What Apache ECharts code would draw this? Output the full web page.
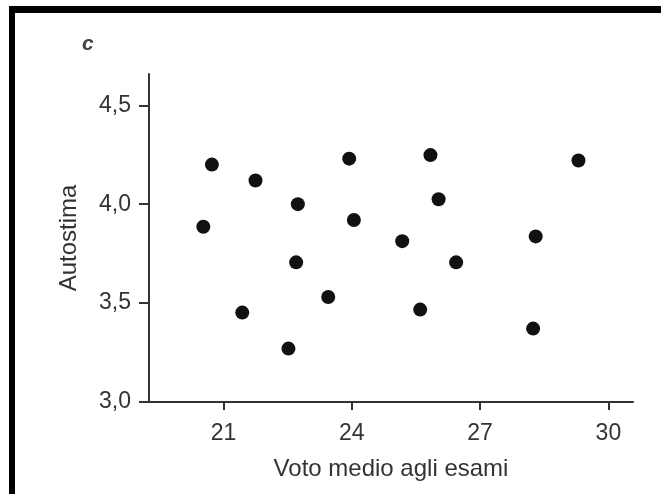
<!DOCTYPE html>
<html>
<head>
<meta charset="utf-8">
<script src="https://cdn.jsdelivr.net/npm/echarts@6/dist/echarts.min.js"></script>
<style>
  html, body { margin: 0; padding: 0; background: #fff; }
  #chart { width: 661px; height: 494px; }
</style>
</head>
<body>
<div id="chart"></div>
<script>
// Voto medio agli esami (x) vs Autostima (y)
const votoMedio = [20.73, 21.75, 23.94, 22.74, 24.05, 20.53, 22.70, 23.45, 21.44,
                   22.52, 25.84, 29.30, 26.03, 25.18, 28.30, 26.44, 25.60, 28.24];
const autostima = [4.20, 4.12, 4.23, 4.00, 3.92, 3.886, 3.706, 3.531, 3.452,
                   3.27, 4.248, 4.221, 4.025, 3.813, 3.837, 3.706, 3.467, 3.371];
const xTicks = [21, 24, 27, 30];
const yTicks = [3.0, 3.5, 4.0, 4.5];

const points = votoMedio.map((v, i) => [v, autostima[i]]);
const font = '"Liberation Sans", Arial, Helvetica, sans-serif';
const ink = '#333';

const chart = echarts.init(document.getElementById('chart'), null, { renderer: 'canvas' });
chart.setOption({
  animation: false,
  backgroundColor: '#fff',
  grid: { left: 149, right: 28, top: 74, bottom: 92, containLabel: false },
  xAxis: {
    type: 'value',
    min: 19.26,
    max: 30.575,
    name: 'Voto medio agli esami',
    nameLocation: 'middle',
    nameGap: 55,
    nameTextStyle: { fontFamily: font, fontSize: 24, color: ink },
    splitLine: { show: false },
    axisLine: { show: true, onZero: false, lineStyle: { color: ink, width: 2 } },
    axisTick: { show: true, customValues: xTicks, length: 8, lineStyle: { color: ink, width: 2 } },
    axisLabel: {
      customValues: xTicks, margin: 20,
      fontFamily: font, fontSize: 23, color: ink,
      formatter: v => String(v)
    }
  },
  yAxis: {
    type: 'value',
    min: 3.0,
    max: 4.658,
    name: 'Autostima',
    nameLocation: 'middle',
    nameGap: 68,
    nameRotate: 90,
    nameTextStyle: { fontFamily: font, fontSize: 24, color: ink },
    splitLine: { show: false },
    axisLine: { show: true, onZero: false, lineStyle: { color: ink, width: 2 } },
    axisTick: { show: true, customValues: yTicks, length: 10, lineStyle: { color: ink, width: 2 } },
    axisLabel: {
      customValues: yTicks, margin: 18,
      fontFamily: font, fontSize: 23, color: ink,
      formatter: v => v.toFixed(1).replace('.', ',')
    }
  },
  series: [{
    type: 'scatter',
    data: points,
    symbol: 'circle',
    symbolSize: 14,
    itemStyle: { color: '#111', opacity: 1 }
  }],
  graphic: [
    { type: 'rect', shape: { x: 9, y: 6, width: 652, height: 7 }, style: { fill: '#000' } },
    { type: 'rect', shape: { x: 9, y: 6, width: 6, height: 488 }, style: { fill: '#000' } },
    {
      type: 'text', left: 82, top: 34,
      style: { text: 'c', fontFamily: font, fontStyle: 'italic', fontWeight: 'bold', fontSize: 21, fill: '#444' }
    }
  ]
});
</script>
</body>
</html>
